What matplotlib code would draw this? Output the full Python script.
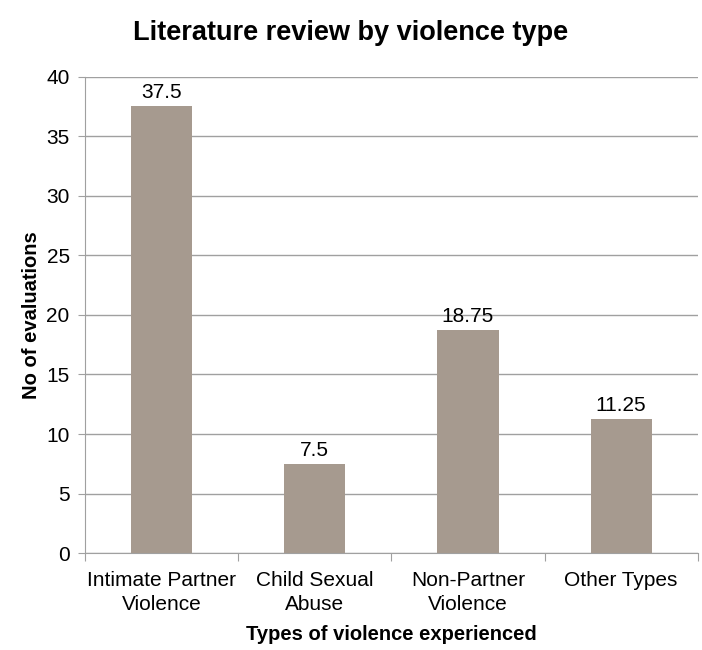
import matplotlib
matplotlib.use("Agg")
import matplotlib.pyplot as plt

# Data
categories = ["Intimate Partner\nViolence", "Child Sexual\nAbuse",
              "Non-Partner\nViolence", "Other Types"]
values = [37.5, 7.5, 18.75, 11.25]
value_labels = ["37.5", "7.5", "18.75", "11.25"]
y_ticks = [0, 5, 10, 15, 20, 25, 30, 35, 40]

plt.rcParams["font.family"] = ["Liberation Sans", "DejaVu Sans"]

fig = plt.figure(figsize=(7.02, 6.5), dpi=100)
ax = fig.add_axes([0.121, 0.149, 0.873, 0.733])

x = list(range(len(categories)))
bars = ax.bar(x, values, width=0.4, color="#a69a8f", zorder=3)

for xi, v, lab in zip(x, values, value_labels):
    ax.text(xi, v + 0.35, lab, ha="center", va="bottom", fontsize=15, color="black")

ax.set_xlim(-0.5, len(categories) - 0.5)
ax.set_ylim(0, 40)
ax.set_yticks(y_ticks)
ax.set_yticklabels([str(t) for t in y_ticks], fontsize=15)

# category labels between boundary ticks
ax.set_xticks([i - 0.5 for i in range(len(categories) + 1)])
ax.set_xticklabels([])
ax.set_xticks(x, minor=True)
ax.set_xticklabels(categories, minor=True, fontsize=15, linespacing=1.3)
ax.tick_params(axis="x", which="minor", length=0, pad=13)
ax.tick_params(axis="x", which="major", length=6, color="#a0a0a0", direction="out")
ax.tick_params(axis="y", length=5, color="#a0a0a0", direction="out", pad=6)

ax.yaxis.grid(True, color="#a0a0a0", linewidth=1, zorder=0)
for s in ["top", "right"]:
    ax.spines[s].set_visible(False)
ax.spines["left"].set_color("#a0a0a0")
ax.spines["bottom"].set_color("#a0a0a0")

ax.set_ylabel("No of evaluations", fontsize=14.5, fontweight="bold", labelpad=4)
ax.set_xlabel("Types of violence experienced", fontsize=14.5, fontweight="bold", labelpad=8)
fig.suptitle("Literature review by violence type", fontsize=19.5, fontweight="bold",
             x=0.5, y=0.97)

fig.savefig("out.png", dpi=100)
